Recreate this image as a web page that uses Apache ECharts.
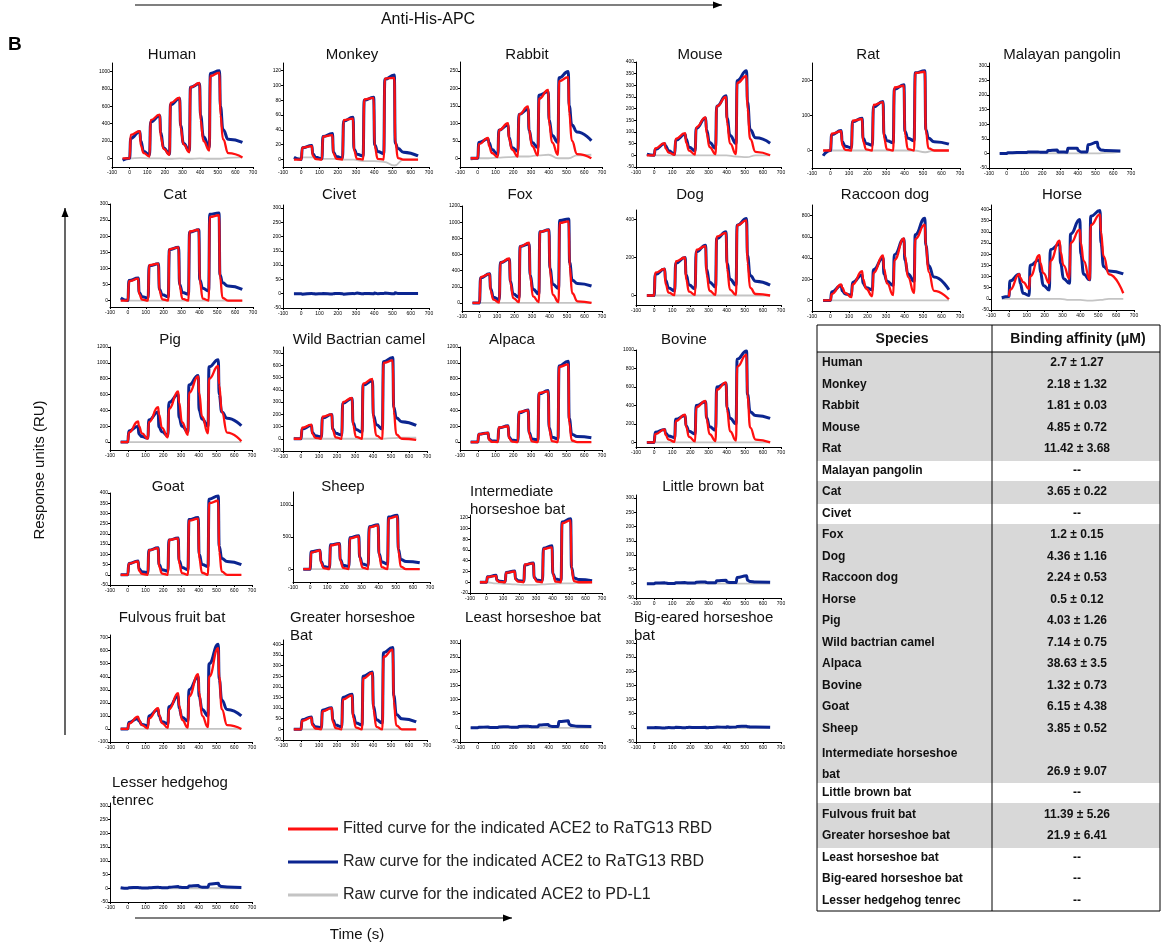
<!DOCTYPE html>
<html><head><meta charset="utf-8">
<script src="https://cdn.jsdelivr.net/npm/echarts@6/dist/echarts.min.js"></script>
<style>html,body{margin:0;padding:0;background:#fff}#c{width:1164px;height:943px}</style>
</head><body><div id="c"></div>
<script>
// ---------- DATA ----------
const TIME = [-40,0, 6,58,63,80,113, 119,171,176,193,226, 232,284,289,306,339, 345,397,402,419,452, 458,510,515,530,560,640];
const TIME_PDL1 = [-40,0,60,113,173,226,286,339,399,452,512,560,640];
const X_TICKS = [-100,0,100,200,300,400,500,600,700];

const humanFit = [0,0, 270,315,150,60,20, 440,505,250,110,40, 640,700,350,160,70, 820,870,440,200,90, 950,990,500,220,60,10];
const humanRaw = [-20,0, 230,310,200,80,40, 420,490,300,120,50, 620,690,380,170,90, 820,860,500,250,130, 980,1010,600,330,220,185];
const humanPdl1 = [0,0,5,0,0,-5,0,-5,0,-5,-5,5,10];
const monkeyFit = [0,0, 16,18,5,0.5,0, 31,33,8,1,0, 53,55,12,1,0, 81,83,18,1,0, 109,110,25,2,0,0];
const monkeyRaw = [3,0, 16,19,8,3,1, 31,35,10,4,2, 52,57,14,7,5, 80,84,20,11,8, 108,114,22,15,10,5];
const monkeyPdl1 = [0,3,3,1,1,0,0,-2,-2,-3,-8,0,0];
const rabbitFit = [0,0, 40,58,35,15,3, 80,100,55,25,5, 125,148,80,35,8, 170,195,100,45,10, 220,232,130,50,12,0];
const rabbitRaw = [0,0, 45,55,45,25,10, 80,95,60,30,20, 125,140,80,45,30, 180,190,110,65,45, 230,248,150,95,75,50];
const rabbitPdl1 = [-5,0,0,2,3,5,5,8,10,0,0,8,10];
const mouseFit = [0,0, 30,52,30,12,2, 70,95,55,20,3, 120,163,95,35,5, 210,250,140,50,5, 310,340,200,70,15,0];
const mouseRaw = [5,0, 25,50,40,20,5, 65,90,70,35,20, 115,160,110,55,30, 210,255,160,85,50, 320,362,230,110,75,52];
const mousePdl1 = [0,0,0,0,0,0,0,0,0,-5,-8,0,0];
const ratFit = [0,0, 48,55,15,2,0, 85,90,25,3,0, 130,138,35,3,0, 180,185,45,4,0, 222,225,55,6,0,0];
const ratRaw = [-15,0, 45,57,25,12,8, 82,92,35,20,15, 125,140,45,28,22, 175,188,55,35,28, 222,228,60,35,25,18];
const ratPdl1 = [0,0,0,0,0,0,0,0,0,0,-5,0,0];
const pangolinRaw = [0,0, 2,3,3,3,3, 5,5,5,4,4, 10,12,5,5,4, 18,18,10,5,5, 30,38,20,12,10,8];
const pangolinPdl1 = [0,0,0,0,0,0,0,0,0,0,0,2,5];
const catFit = [0,0, 60,68,20,3,0, 110,115,30,4,0, 160,165,45,5,0, 215,220,60,6,0, 260,265,75,8,0,0];
const catRaw = [8,0, 62,70,25,12,8, 108,114,35,18,12, 158,166,50,25,20, 212,220,65,38,30, 268,272,80,55,45,35];
const civetRaw = [0,0, -2,1,0,-1,0, 1,-1,0,1,0, -2,1,0,2,0, 1,0,2,0,1, 2,0,3,1,1,1];
const civetPdl1 = [0,0,0,0,0,0,0,-2,-2,0,0,0,0];
const foxFit = [0,0, 320,360,150,40,5, 500,550,250,60,10, 700,745,330,80,10, 880,905,400,100,10, 990,1010,450,120,20,0];
const foxRaw = [0,0, 310,360,180,70,40, 500,540,270,110,70, 700,730,350,170,110, 880,905,430,230,180, 1020,1040,500,280,240,210];
const dogFit = [0,0, 120,140,60,15,2, 180,200,85,20,3, 240,260,110,25,3, 310,330,140,30,3, 370,395,170,40,8,0];
const dogRaw = [0,0, 110,140,80,40,25, 170,200,110,55,35, 230,265,140,70,45, 300,335,170,85,55, 370,405,210,105,75,55];
const raccoonFit = [0,0, 60,150,120,70,30, 150,275,200,110,40, 260,425,300,160,50, 380,585,420,220,70, 580,715,530,270,90,10];
const raccoonRaw = [0,0, 80,140,90,60,50, 170,240,160,120,100, 290,400,250,180,140, 430,580,380,250,180, 620,775,520,330,220,100];
const horseFit = [null,10, 40,110,95,75,45, 100,195,160,115,70, 170,260,210,150,90, 250,310,250,170,85, 330,378,300,190,110,25];
const horseRaw = [5,10, 80,110,70,25,15, 150,175,120,60,40, 220,245,160,90,70, 290,355,200,110,85, 370,395,250,145,125,112];
const horsePdl1 = [0,0,0,0,0,0,0,-5,-5,-8,-5,0,0];
const pigFit = [0,0, 120,260,200,110,40, 250,440,350,180,60, 420,640,500,250,90, 620,830,620,320,110, 800,960,720,380,120,10];
const pigRaw = [0,0, 140,200,100,70,50, 280,380,190,130,80, 500,600,310,200,130, 720,840,400,290,200, 950,1040,600,380,300,205];
const camelFit = [0,0, 90,115,40,8,0, 180,200,70,12,0, 300,335,110,15,0, 450,490,160,25,0, 620,640,220,35,0,-10];
const camelRaw = [0,0, 80,108,50,25,15, 170,198,80,45,30, 290,330,130,75,55, 440,475,190,115,80, 630,665,260,170,140,110];
const camelPdl1 = [10,0,0,0,0,0,0,0,0,0,5,10,10];
const alpacaFit = [0,0, 100,115,30,3,0, 185,200,50,5,0, 380,400,100,8,0, 620,640,160,12,0, 950,980,250,20,0,0];
const alpacaRaw = [0,0, 100,115,40,15,10, 180,205,60,25,15, 370,405,120,40,25, 610,650,180,60,40, 960,1020,300,100,70,55];
const bovineFit = [0,0, 90,140,80,30,5, 230,300,170,60,10, 380,450,250,90,15, 570,650,350,120,20, 820,950,500,160,30,0];
const bovineRaw = [0,0, 110,140,100,70,50, 250,290,180,120,90, 400,440,270,170,130, 600,640,380,260,200, 900,990,520,330,290,260];
const goatFit = [0,0, 55,65,20,4,0, 120,130,40,6,0, 170,178,55,8,0, 265,275,80,10,0, 350,362,110,15,0,0];
const goatRaw = [0,0, 55,68,30,15,10, 120,132,50,25,18, 170,180,70,35,25, 270,280,100,50,40, 370,385,140,80,65,50];
const sheepFit = [0,0, 260,290,100,15,0, 370,395,130,20,0, 480,510,170,25,0, 650,680,220,30,0, 790,820,280,40,0,0];
const sheepRaw = [0,0, 270,295,120,40,25, 380,400,150,60,40, 490,520,190,80,55, 660,690,240,110,80, 810,840,310,150,120,100];
const ihbFit = [0,0, 10,12,3,0.5,0, 18,20,5,1,0, 33,35,8,1,0, 62,65,15,1,0, 110,115,25,2,0,0];
const ihbRaw = [0,0, 10,13,4,2,1, 18,21,6,3,2, 32,36,9,4,3, 63,68,16,6,4, 112,118,28,8,5,3];
const ihbPdl1 = [0,0,-2,-3,-4,-5,-5,-4,-3,-2,-2,-1,0];
const lbbRaw = [0,0, 2,3,2,1,1, 3,4,3,2,2, 5,6,4,3,3, 10,12,6,4,4, 22,28,12,8,6,5];
const fulvousFit = [0,0, 40,95,70,30,5, 80,160,110,45,8, 150,275,180,70,10, 250,420,280,100,15, 400,620,400,150,30,0];
const fulvousRaw = [0,0, 50,80,60,35,25, 100,150,100,55,40, 170,250,160,90,60, 300,400,250,150,100, 500,650,380,220,150,100];
const greaterFit = [0,0, 40,55,20,4,0, 85,100,35,6,0, 140,160,55,8,0, 240,265,90,12,0, 340,375,130,18,0,0];
const greaterRaw = [0,0, 45,58,25,12,8, 90,102,45,20,12, 150,165,70,30,20, 250,270,110,45,30, 360,385,160,70,50,35];
const leastRaw = [0,0, 2,3,2,1,1, 3,4,3,2,2, 5,6,5,4,4, 10,12,7,5,5, 22,25,12,8,6,5];
const bigearedRaw = [0,0, 1,-1,0,1,0, 2,0,1,2,1, 1,2,0,1,2, 3,2,4,2,3, 5,6,4,3,3,2];
const tenrecRaw = [2,0, 2,3,2,1,1, 2,4,3,2,2, 4,6,4,3,3, 8,10,6,4,4, 15,18,10,6,5,3];
const flatPdl1 = [0,0,0,0,0,0,0,0,0,0,0,0,0];

// panel: title, fit, raw, pdl1, yMin, yMax, y tick labels
const PANELS = [
  ['Human', humanFit, humanRaw, humanPdl1, -100, 1100, [0,200,400,600,800,1000]],
  ['Monkey', monkeyFit, monkeyRaw, monkeyPdl1, -10, 130, [0,20,40,60,80,100,120]],
  ['Rabbit', rabbitFit, rabbitRaw, rabbitPdl1, -25, 275, [0,50,100,150,200,250]],
  ['Mouse', mouseFit, mouseRaw, mousePdl1, -50, 400, [-50,0,50,100,150,200,250,300,350,400]],
  ['Rat', ratFit, ratRaw, ratPdl1, -50, 250, [0,100,200]],
  ['Malayan pangolin', null, pangolinRaw, pangolinPdl1, -50, 310, [-50,0,50,100,150,200,250,300]],
  ['Cat', catFit, catRaw, flatPdl1, -20, 300, [0,50,100,150,200,250,300]],
  ['Civet', null, civetRaw, civetPdl1, -50, 310, [-50,0,50,100,150,200,250,300]],
  ['Fox', foxFit, foxRaw, flatPdl1, -100, 1200, [0,200,400,600,800,1000,1200]],
  ['Dog', dogFit, dogRaw, flatPdl1, -50, 450, [0,200,400]],
  ['Raccoon dog', raccoonFit, raccoonRaw, flatPdl1, -100, 900, [0,200,400,600,800]],
  ['Horse', horseFit, horseRaw, horsePdl1, -50, 420, [-50,0,50,100,150,200,250,300,350,400]],
  ['Pig', pigFit, pigRaw, flatPdl1, -100, 1200, [0,200,400,600,800,1000,1200]],
  ['Wild Bactrian camel', camelFit, camelRaw, camelPdl1, -100, 750, [-100,0,100,200,300,400,500,600,700]],
  ['Alpaca', alpacaFit, alpacaRaw, flatPdl1, -100, 1200, [0,200,400,600,800,1000,1200]],
  ['Bovine', bovineFit, bovineRaw, flatPdl1, -50, 1000, [0,200,400,600,800,1000]],
  ['Goat', goatFit, goatRaw, flatPdl1, -50, 400, [-50,0,50,100,150,200,250,300,350,400]],
  ['Sheep', sheepFit, sheepRaw, flatPdl1, -200, 1200, [0,500,1000]],
  ['Intermediate\nhorseshoe bat', ihbFit, ihbRaw, ihbPdl1, -20, 125, [-20,0,20,40,60,80,100,120]],
  ['Little brown bat', null, lbbRaw, flatPdl1, -50, 310, [-50,0,50,100,150,200,250,300]],
  ['Fulvous fruit bat', fulvousFit, fulvousRaw, flatPdl1, -100, 720, [-100,0,100,200,300,400,500,600,700]],
  ['Greater horseshoe\nBat', greaterFit, greaterRaw, flatPdl1, -50, 420, [-50,0,50,100,150,200,250,300,350,400]],
  ['Least horseshoe bat', null, leastRaw, flatPdl1, -50, 310, [-50,0,50,100,150,200,250,300]],
  ['Big-eared horseshoe\nbat', null, bigearedRaw, flatPdl1, -50, 310, [-50,0,50,100,150,200,250,300]],
  ['Lesser hedgehog\ntenrec', null, tenrecRaw, flatPdl1, -50, 310, [-50,0,50,100,150,200,250,300]]
];

const TABLE_SPECIES = ['Human','Monkey','Rabbit','Mouse','Rat','Malayan pangolin','Cat','Civet','Fox','Dog','Raccoon dog','Horse','Pig','Wild bactrian camel','Alpaca','Bovine','Goat','Sheep','Intermediate horseshoe bat','Little brown bat','Fulvous fruit bat','Greater horseshoe bat','Least horseshoe bat','Big-eared horseshoe bat','Lesser hedgehog tenrec'];
const TABLE_AFFINITY = ['2.7 ± 1.27','2.18 ± 1.32','1.81 ± 0.03','4.85 ± 0.72','11.42 ± 3.68','--','3.65 ± 0.22','--','1.2 ± 0.15','4.36 ± 1.16','2.24 ± 0.53','0.5 ± 0.12','4.03 ± 1.26','7.14 ± 0.75','38.63 ± 3.5','1.32 ± 0.73','6.15 ± 4.38','3.85 ± 0.52','26.9 ± 9.07','--','11.39 ± 5.26','21.9 ± 6.41','--','--','--'];

const LEGEND_NAMES = ['Fitted curve for the indicated ACE2 to RaTG13 RBD','Raw curve for the indicated ACE2 to RaTG13 RBD','Raw curve for the indicated ACE2 to PD-L1'];

// ---------- LAYOUT (pixels) ----------
// left, right, top, bottom, titleX, titleY, titleAlign
const LAYOUT = [
  [112,253,63,167, 172,55,'center'], [283,429,63,167, 352,55,'center'], [460,602,62,167, 527,55,'center'],
  [636,781,62,167, 700,55,'center'], [812,960,63,168, 868,55,'center'], [989,1131,63,168, 1062,55,'center'],
  [110,253,204,307, 175,195,'center'], [283,429,205,308, 339,195,'center'], [462,602,206,311, 520,195,'center'],
  [636,781,210,305, 690,195,'center'], [812,960,205,311, 885,195,'center'], [991,1134,205,310, 1062,195,'center'],
  [110,252,347,450, 170,340,'center'], [283,427,347,451, 359,340,'center'], [460,602,347,450, 512,340,'center'],
  [636,781,350,447, 684,340,'center'],
  [110,252,493,585, 168,487,'center'], [293,430,492,582, 343,487,'center'], [470,602,515,593, 470,483,'left'],
  [636,781,495,598, 713,487,'center'],
  [110,252,635,742, 172,618,'center'], [283,427,640,740, 290,609,'left'], [460,602,640,742, 533,618,'center'],
  [636,781,640,742, 634,609,'left'],
  [110,252,803,902, 112,774,'left']
];

const RED = '#ff1010', BLUE = '#0b2590', GREY = '#c4c4c4';
const FONT = '"Liberation Sans", Arial, sans-serif';

const grid = [], xAxis = [], yAxis = [], series = [], graphic = [];
PANELS.forEach((p, i) => {
  const L = LAYOUT[i];
  grid.push({left: L[0], top: L[2], width: L[1]-L[0], height: L[3]-L[2]});
  const axStyle = {color:'#000', width:1};
  xAxis.push({gridIndex:i, type:'value', min:-100, max:700,
    axisLine:{onZero:false, lineStyle:axStyle},
    axisTick:{customValues:X_TICKS, length:2, lineStyle:axStyle},
    axisLabel:{customValues:X_TICKS, fontSize:5, margin:3, color:'#000', fontFamily:FONT, formatter:v=>String(v)},
    splitLine:{show:false}});
  yAxis.push({gridIndex:i, type:'value', min:p[4], max:p[5],
    axisLine:{show:true, onZero:false, lineStyle:axStyle},
    axisTick:{show:true, customValues:p[6], length:2, lineStyle:axStyle},
    axisLabel:{customValues:p[6], fontSize:5, margin:2, color:'#000', fontFamily:FONT, formatter:v=>String(v)},
    splitLine:{show:false}});
  const mk = (times, arr, name, color, w) => ({
    type:'line', name, xAxisIndex:i, yAxisIndex:i, data: times.map((t,k)=>[t, arr[k]]),
    showSymbol:false, symbol:'none', smooth:true, smoothMonotone:'x', animation:false,
    lineStyle:{color, width:w}, itemStyle:{color}, z:3
  });
  series.push(mk(TIME_PDL1, p[3], LEGEND_NAMES[2], GREY, 1.8));
  series.push(mk(TIME, p[2], LEGEND_NAMES[1], BLUE, 3));
  if (p[1]) series.push(mk(TIME, p[1], LEGEND_NAMES[0], RED, 2.3));
  const multi = p[0].indexOf('\n') >= 0;
  graphic.push({type:'text', style:{text:p[0], x:L[4], y:L[5], textAlign:L[6],
    textVerticalAlign: multi ? 'top' : 'middle', font:'15px ' + FONT, fill:'#111', lineHeight:18}});
});

function arrowLine(x1,y1,x2,y2){
  graphic.push({type:'line', shape:{x1,y1,x2,y2}, style:{stroke:'#000', lineWidth:1.2}});
  const ang = Math.atan2(y2-y1, x2-x1), L=9, W=3.5;
  const bx = x2 - L*Math.cos(ang), by = y2 - L*Math.sin(ang);
  graphic.push({type:'polygon', shape:{points:[[x2,y2],[bx - W*Math.sin(ang), by + W*Math.cos(ang)],[bx + W*Math.sin(ang), by - W*Math.cos(ang)]]}, style:{fill:'#000'}});
}
arrowLine(135,5,722,5);
arrowLine(65,735,65,208);
arrowLine(135,918,512,918);
graphic.push({type:'text', style:{text:'Anti-His-APC', x:428, y:20, textAlign:'center', textVerticalAlign:'middle', font:'16px '+FONT, fill:'#111'}});
graphic.push({type:'text', style:{text:'Time (s)', x:357, y:935, textAlign:'center', textVerticalAlign:'middle', font:'15px '+FONT, fill:'#111'}});
graphic.push({type:'text', rotation:Math.PI/2, x:40, y:470, style:{text:'Response units (RU)', x:0, y:0, textAlign:'center', textVerticalAlign:'middle', font:'15px '+FONT, fill:'#111'}});
graphic.push({type:'text', style:{text:'B', x:8, y:45, textAlign:'left', textVerticalAlign:'middle', font:'bold 19px '+FONT, fill:'#000'}});

// table
const TX0 = 817, TX1 = 1160, TXM = 992, TY0 = 325, THEAD = 352, ROWH = 21.5;
let y = THEAD;
const tableEls = [];
TABLE_SPECIES.forEach((s, k) => {
  const dbl = s === 'Intermediate horseshoe bat';
  const h = ROWH * (dbl ? 2 : 1);
  const v = TABLE_AFFINITY[k];
  if (v !== '--') graphic.push({type:'rect', shape:{x:TX0, y:Math.floor(y), width:TX1-TX0, height:Math.ceil(h)+1}, style:{fill:'#d8d8d8'}});
  const yc = dbl ? y + ROWH*1.5 : y + h/2;
  tableEls.push({type:'text', style:{text: dbl ? 'Intermediate horseshoe\nbat' : s, x:822, y: dbl ? y + ROWH/2 - 7 : yc, textAlign:'left', textVerticalAlign: dbl ? 'top' : 'middle', lineHeight:ROWH, font:'bold 12px '+FONT, fill:'#111'}});
  tableEls.push({type:'text', style:{text:v, x:1077, y:yc, textAlign:'center', textVerticalAlign:'middle', font:'bold 12px '+FONT, fill:'#111'}});
  y += h;
});
graphic.push(...tableEls);
graphic.push({type:'text', style:{text:'Species', x:902, y:339, textAlign:'center', textVerticalAlign:'middle', font:'bold 14px '+FONT, fill:'#111'}});
graphic.push({type:'text', style:{text:'Binding affinity (μM)', x:1078, y:339, textAlign:'center', textVerticalAlign:'middle', font:'bold 14px '+FONT, fill:'#111'}});
graphic.push({type:'rect', shape:{x:TX0, y:TY0, width:TX1-TX0, height:y-TY0}, style:{fill:'none', stroke:'#000', lineWidth:1}});
graphic.push({type:'line', shape:{x1:TX0, y1:THEAD, x2:TX1, y2:THEAD}, style:{stroke:'#000', lineWidth:1}});
graphic.push({type:'line', shape:{x1:TXM, y1:TY0, x2:TXM, y2:y}, style:{stroke:'#000', lineWidth:1}});

const chart = echarts.init(document.getElementById('c'), null, {renderer:'canvas'});
chart.setOption({
  animation:false,
  grid, xAxis, yAxis, series, graphic,
  legend:{data:LEGEND_NAMES, orient:'vertical', left:283, top:816, itemWidth:50, itemHeight:3, itemGap:17,
    icon:'rect', textStyle:{fontSize:16, color:'#222', fontFamily:FONT}, selectedMode:false}
});
</script></body></html>
